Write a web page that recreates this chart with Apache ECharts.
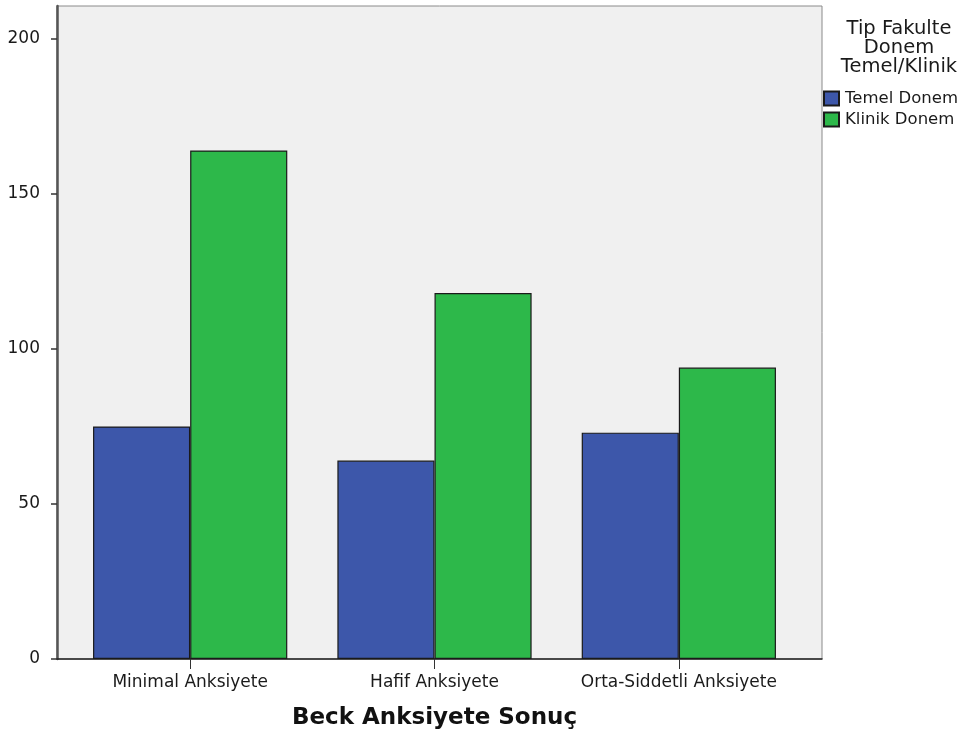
<!DOCTYPE html>
<html>
<head>
<meta charset="utf-8">
<title>Beck Anksiyete Sonuç</title>
<script src="https://cdn.jsdelivr.net/npm/echarts@6/dist/echarts.min.js"></script>
<style>
  html, body { margin: 0; padding: 0; background: #ffffff; }
  #chart { width: 972px; height: 729px; }
</style>
</head>
<body>
<div id="chart"></div>
<script>
// Anxiety result groups and counts per faculty period
const categories = ['Minimal Anksiyete', 'Hafif Anksiyete', 'Orta-Siddetli Anksiyete'];
const temelDonem = [75, 64, 73];
const klinikDonem = [164, 118, 94];
const seriesNames = ['Temel Donem', 'Klinik Donem'];
const yTicks = { min: 0, max: 210.6, interval: 50 };

const FONT = 'DejaVu Sans';
const chart = echarts.init(document.getElementById('chart'));

chart.setOption({
  animation: false,
  backgroundColor: '#ffffff',
  title: {
    text: 'Tip Fakulte\nDonem\nTemel/Klinik',
    left: 894,
    top: 14,
    textAlign: 'center',
    textStyle: { fontFamily: FONT, fontSize: 19.5, fontWeight: 'normal', color: '#1a1a1a', lineHeight: 19 }
  },
  legend: {
    orient: 'vertical',
    left: 818,
    top: 85,
    itemWidth: 15,
    itemHeight: 14,
    itemGap: 4,
    icon: 'rect',
    textStyle: { fontFamily: FONT, fontSize: 16.5, color: '#1a1a1a', padding: [0, 0, 0, 1] },
    data: seriesNames
  },
  grid: [
    // bars
    { left: 68, width: 733, top: 6, bottom: 70, outerBoundsMode: 'none', containLabel: false },
    // plot frame and background
    { left: 57, right: 150, top: 6, bottom: 70, outerBoundsMode: 'none', show: true, backgroundColor: '#f0f0f0', borderColor: '#8a8a8a', borderWidth: 1, z: 0 }
  ],
  xAxis: [
    {
      gridIndex: 0,
      type: 'category',
      data: categories,
      axisLine: { show: false },
      axisTick: { show: true, interval: 0, alignWithLabel: true, length: 10, lineStyle: { color: '#333', width: 1 } },
      axisLabel: { interval: 0, hideOverlap: false, margin: 15, fontFamily: FONT, fontSize: 17, color: '#1a1a1a' },
      name: 'Beck Anksiyete Sonuç',
      nameLocation: 'middle',
      nameGap: 48,
      nameTextStyle: { fontFamily: FONT, fontSize: 23, fontWeight: 'bold', color: '#111' }
    },
    {
      gridIndex: 1,
      type: 'value',
      min: 0, max: 1,
      axisLine: { show: true, lineStyle: { color: '#222', width: 1.5 } },
      axisTick: { show: false },
      axisLabel: { show: false },
      splitLine: { show: false }
    }
  ],
  yAxis: [
    {
      gridIndex: 0,
      type: 'value',
      min: yTicks.min,
      max: yTicks.max,
      interval: yTicks.interval,
      offset: 11,
      axisLine: { show: false },
      axisTick: { show: true, length: 6, lineStyle: { color: '#333', width: 1.5 } },
      axisLabel: { showMaxLabel: false, margin: 17, fontFamily: FONT, fontSize: 17, color: '#1a1a1a' },
      splitLine: { show: false }
    },
    {
      gridIndex: 1,
      type: 'value',
      min: 0, max: 1,
      axisLine: { show: true, lineStyle: { color: '#555', width: 2.5 } },
      axisTick: { show: false },
      axisLabel: { show: false },
      splitLine: { show: false }
    }
  ],
  series: [
    {
      name: seriesNames[0],
      type: 'bar',
      xAxisIndex: 0,
      yAxisIndex: 0,
      data: temelDonem,
      barGap: '0%',
      barCategoryGap: '20.5%',
      itemStyle: { color: '#3d57aa', borderColor: '#1a1a1a', borderWidth: 1.2 },
      z: 3
    },
    {
      name: seriesNames[1],
      type: 'bar',
      xAxisIndex: 0,
      yAxisIndex: 0,
      data: klinikDonem,
      barGap: '0%',
      barCategoryGap: '20.5%',
      itemStyle: { color: '#2db84a', borderColor: '#1a1a1a', borderWidth: 1.2 },
      z: 3
    }
  ]
});
</script>
</body>
</html>
